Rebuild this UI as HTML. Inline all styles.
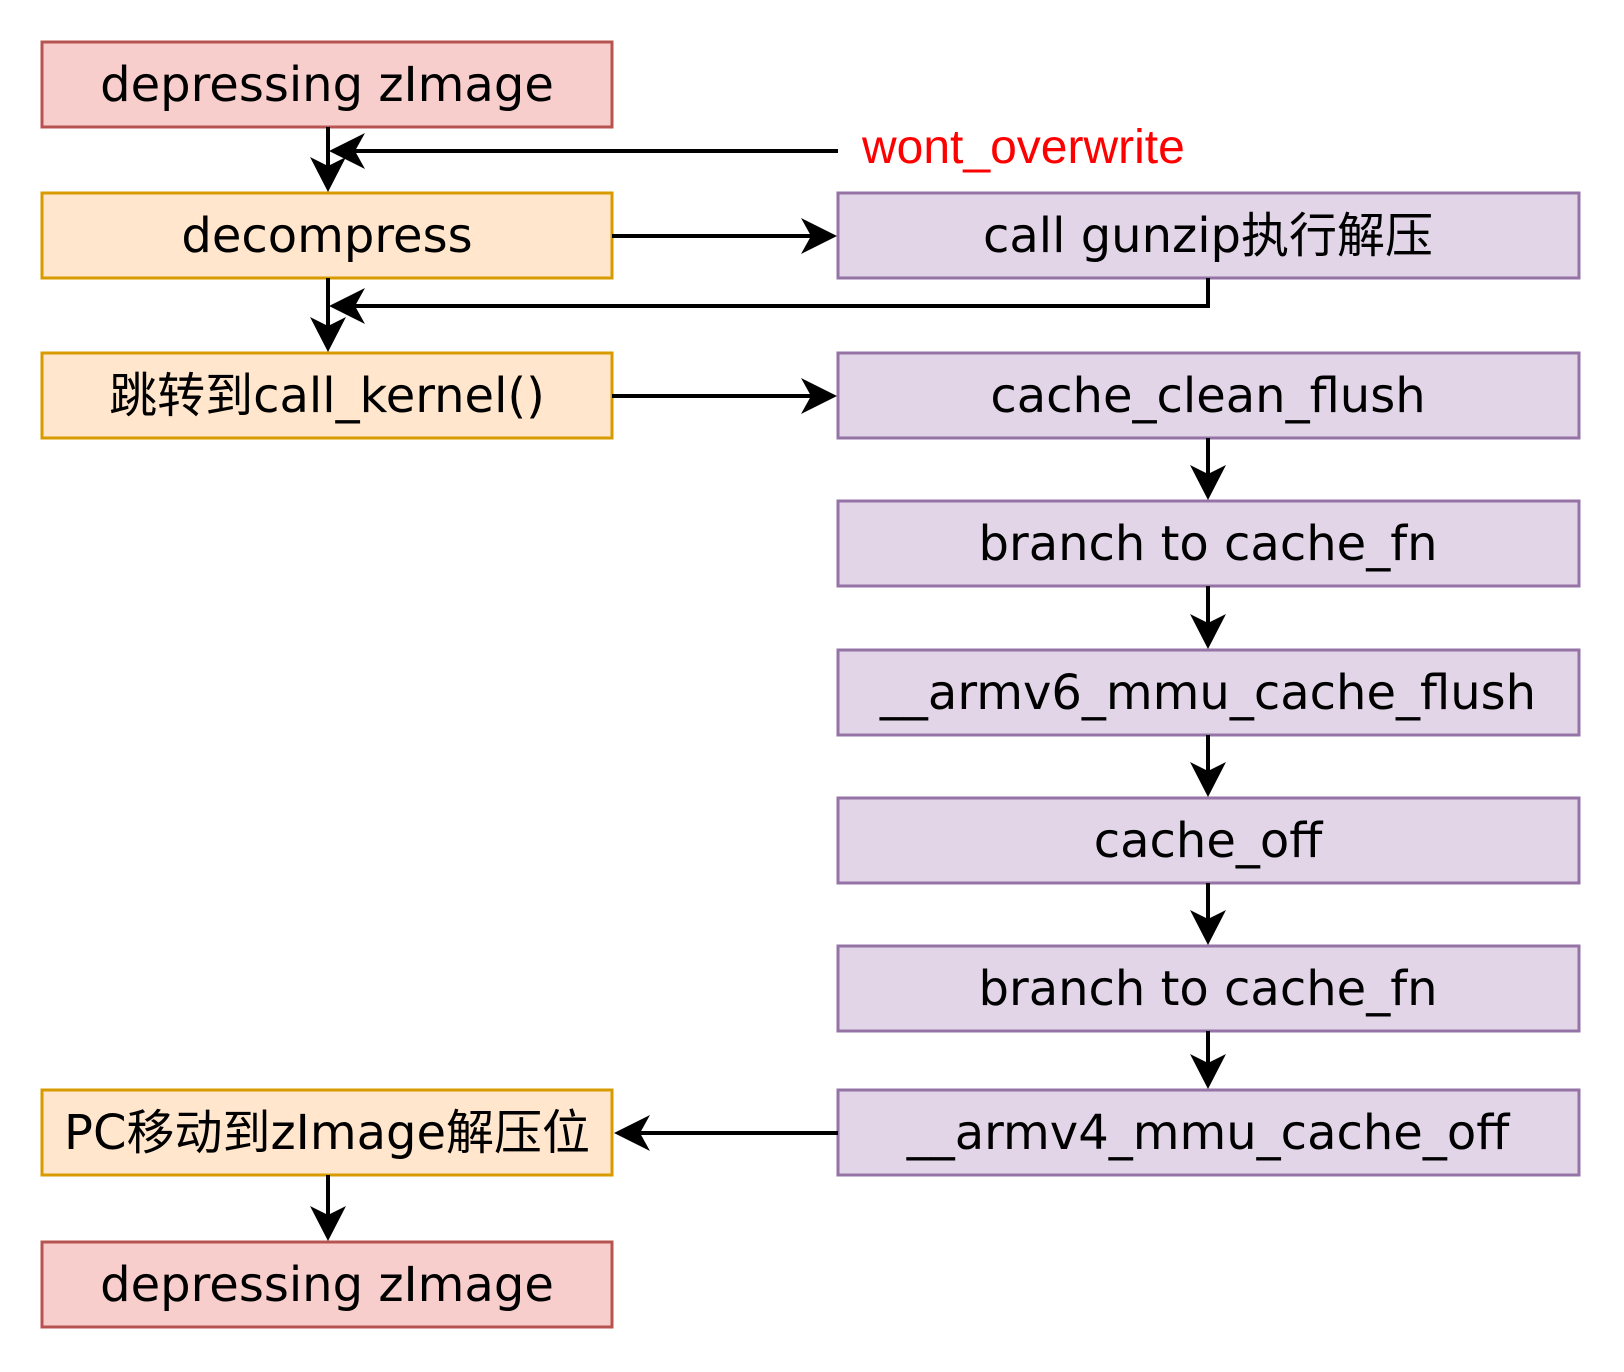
<!DOCTYPE html>
<html><head><meta charset="utf-8"><style>
html,body{margin:0;padding:0;background:#fff;}
svg{display:block;}
text{font-family:"DejaVu Sans","Noto Sans CJK SC",sans-serif;font-size:48px;fill:#000;}
</style></head><body>
<svg width="1624" height="1372" viewBox="0 0 1624 1372" xmlns="http://www.w3.org/2000/svg">
<g stroke-width="3">
<rect x="42" y="42" width="570" height="85" fill="#f8cecc" stroke="#b85450"/>
<rect x="42" y="193" width="570" height="85" fill="#ffe6cc" stroke="#d79b00"/>
<rect x="838" y="193" width="741" height="85" fill="#e1d5e7" stroke="#9673a6"/>
<rect x="42" y="353" width="570" height="85" fill="#ffe6cc" stroke="#d79b00"/>
<rect x="838" y="353" width="741" height="85" fill="#e1d5e7" stroke="#9673a6"/>
<rect x="838" y="501" width="741" height="85" fill="#e1d5e7" stroke="#9673a6"/>
<rect x="838" y="650" width="741" height="85" fill="#e1d5e7" stroke="#9673a6"/>
<rect x="838" y="798" width="741" height="85" fill="#e1d5e7" stroke="#9673a6"/>
<rect x="838" y="946" width="741" height="85" fill="#e1d5e7" stroke="#9673a6"/>
<rect x="838" y="1090" width="741" height="85" fill="#e1d5e7" stroke="#9673a6"/>
<rect x="42" y="1090" width="570" height="85" fill="#ffe6cc" stroke="#d79b00"/>
<rect x="42" y="1242" width="570" height="85" fill="#f8cecc" stroke="#b85450"/>
</g>
<g stroke="#000" stroke-width="4" fill="none">
<line x1="328" y1="127" x2="328" y2="170"/>
<line x1="838" y1="151" x2="345" y2="151"/>
<line x1="612" y1="236" x2="815" y2="236"/>
<polyline points="1208,278 1208,306 345,306"/>
<line x1="328" y1="278" x2="328" y2="330"/>
<line x1="612" y1="396" x2="815" y2="396"/>
<line x1="1208" y1="438" x2="1208" y2="479"/>
<line x1="1208" y1="586" x2="1208" y2="628"/>
<line x1="1208" y1="735" x2="1208" y2="776"/>
<line x1="1208" y1="883" x2="1208" y2="924"/>
<line x1="1208" y1="1031" x2="1208" y2="1068"/>
<line x1="838" y1="1133" x2="635" y2="1133"/>
<line x1="328" y1="1175" x2="328" y2="1220"/>
</g>
<g fill="#000">
<path d="M328,192 L310,157 L328,166 L346,157 Z"/>
<path d="M328,352 L310,317 L328,326 L346,317 Z"/>
<path d="M1208,500 L1190,465 L1208,474 L1226,465 Z"/>
<path d="M1208,649 L1190,614 L1208,623 L1226,614 Z"/>
<path d="M1208,797 L1190,762 L1208,771 L1226,762 Z"/>
<path d="M1208,945 L1190,910 L1208,919 L1226,910 Z"/>
<path d="M1208,1089 L1190,1054 L1208,1063 L1226,1054 Z"/>
<path d="M328,1241 L310,1206 L328,1215 L346,1206 Z"/>
<path d="M329,151 L365,133 L355,151 L365,169 Z"/>
<path d="M329,306 L365,288 L355,306 L365,324 Z"/>
<path d="M614,1133 L650,1115 L640,1133 L650,1151 Z"/>
<path d="M837,236 L801,218 L811,236 L801,254 Z"/>
<path d="M837,396 L801,378 L811,396 L801,414 Z"/>
</g>
<g text-anchor="middle">
<text x="327" y="101">depressing zImage</text>
<text x="327" y="252">decompress</text>
<text x="1208" y="252">call gunzip执行解压</text>
<text x="327" y="412">跳转到call_kernel()</text>
<text x="1208" y="412">cache_clean_flush</text>
<text x="1208" y="560">branch to cache_fn</text>
<text x="1208" y="709">__armv6_mmu_cache_flush</text>
<text x="1208" y="857">cache_off</text>
<text x="1208" y="1005">branch to cache_fn</text>
<text x="1208" y="1149">__armv4_mmu_cache_off</text>
<text x="327" y="1149">PC移动到zImage解压位</text>
<text x="327" y="1301">depressing zImage</text>
</g>
<text x="862" y="163" style="font-family:'Liberation Sans',sans-serif;font-size:48px;fill:#ff0000;">wont_overwrite</text>
</svg>
</body></html>
